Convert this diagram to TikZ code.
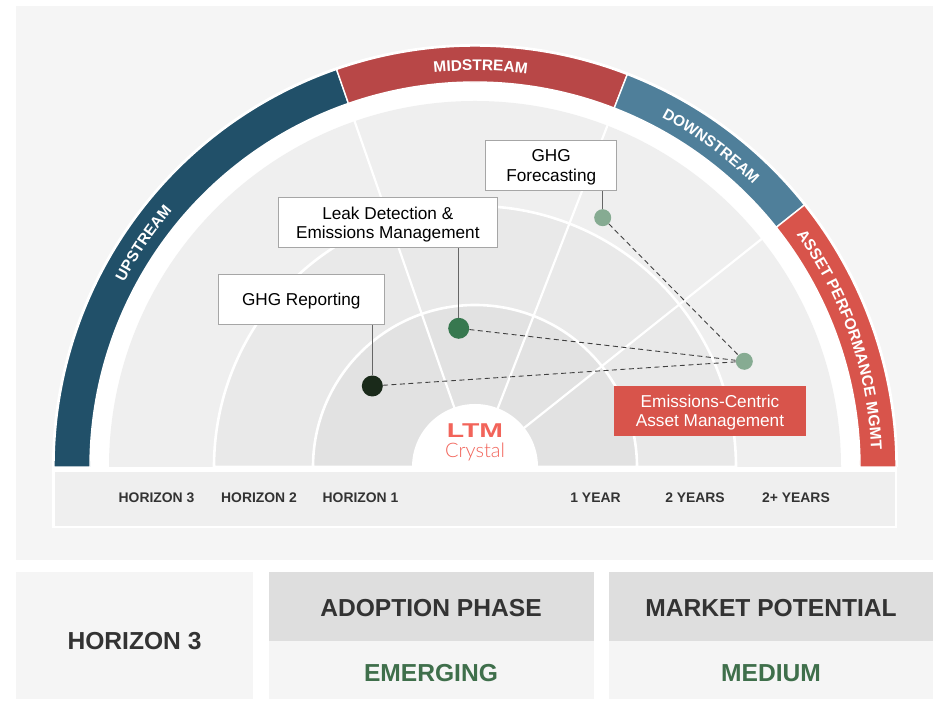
\documentclass[tikz,border=0pt]{standalone}
\usepackage{fontspec}
\setmainfont{Liberation Sans}
\newfontfamily\logolight{Lato Light}
\usetikzlibrary{decorations.text}
\definecolor{panelbg}{HTML}{F5F5F5}
\definecolor{ringa}{HTML}{EFEFEF}
\definecolor{ringb}{HTML}{E9E9E9}
\definecolor{ringc}{HTML}{E2E2E2}
\definecolor{upc}{HTML}{215069}
\definecolor{midc}{HTML}{B84747}
\definecolor{downc}{HTML}{4F7F9A}
\definecolor{assetc}{HTML}{D8544B}
\definecolor{logoc}{HTML}{F2645A}
\definecolor{txtc}{HTML}{333333}
\definecolor{greenc}{HTML}{3F6F4B}
\definecolor{dotl}{HTML}{86AB92}
\definecolor{dotdark}{HTML}{1A2A1A}
\definecolor{dotmid}{HTML}{37784F}
\tikzset{
  x=1pt,y=1pt,
  labelbox/.style={draw=black!35,line width=0.9pt,fill=white,inner sep=0pt,minimum height=50pt},
  boxtext/.style={align=center,font=\fontsize{17.2}{19.8}\selectfont,inner sep=0pt,text=black},
  axislabel/.style={font=\fontsize{13.9}{13.9}\selectfont\bfseries,text=txtc,inner sep=0pt},
  bigdot/.style={circle,inner sep=0pt,minimum size=21pt},
  smalldot/.style={circle,inner sep=0pt,minimum size=17pt,fill=dotl},
  stem/.style={draw=black!60,line width=0.9pt},
  link/.style={draw=black!75,line width=0.9pt,dash pattern=on 5pt off 3.5pt},
  spoke/.style={draw=white,line width=2.2pt},
  sectorband/.style={draw=white,line width=1.4pt},
  paneltext/.style={font=\fontsize{24.6}{24.6}\selectfont\bfseries,inner sep=0pt},
}
\newcommand{\bandsector}[3]{%
  \path[sectorband,fill=#3] (#1:385) arc[start angle=#1,end angle=#2,radius=385pt] -- (#2:421) arc[start angle=#2,end angle=#1,radius=421pt] -- cycle;}
\newcommand{\bandtext}[3]{%
  \path[decorate,decoration={text along path,text align=center,text color=white,
    text={|\fontsize{#3}{#3}\selectfont\bfseries|#2}}]
    (#1+30:396.5) arc[start angle=#1+30,end angle=#1-30,radius=396.5pt];}
\begin{document}
\begin{tikzpicture}
\useasboundingbox (0,0) rectangle (934,703);
\fill[white] (0,0) rectangle (934,703);
\fill[panelbg] (16,143) rectangle (933,697);
% semicircle
\begin{scope}[shift={(475,236)}]
  \fill[white] (-423,0) arc[start angle=180,end angle=0,radius=423pt] -- cycle;
  \bandsector{109.2}{180}{upc}
  \bandsector{68.8}{109.2}{midc}
  \bandsector{38.5}{68.8}{downc}
  \bandsector{0}{38.5}{assetc}
  \fill[ringa] (-366,0) arc[start angle=180,end angle=0,radius=366pt] -- cycle;
  \path[draw=white,line width=2.6pt,fill=ringb] (-261,0) arc[start angle=180,end angle=0,radius=261pt] -- cycle;
  \path[draw=white,line width=2.6pt,fill=ringc] (-162,0) arc[start angle=180,end angle=0,radius=162pt] -- cycle;
  \coordinate (hub) at (0,0);
  \coordinate (sa) at (109.2:371);
  \coordinate (sb) at (68.8:371);
  \coordinate (sc) at (38.5:371);
  \draw[spoke] (hub) -- (sa);
  \draw[spoke] (hub) -- (sb);
  \draw[spoke] (hub) -- (sc);
  \fill[white] (-63,0) arc[start angle=180,end angle=0,radius=63pt] -- cycle;
  \bandtext{146}{UPSTREAM}{15.4}
  \bandtext{89.2}{MIDSTREAM}{15.4}
  \bandtext{53.7}{DOWNSTREAM}{15.4}
  \bandtext{19.2}{ASSET PERFORMANCE MGMT}{15.6}
\end{scope}
% axis strip
\fill[white] (52.3,175) rectangle (897.3,236);
\fill[ringa] (55,177.3) rectangle (895,231.3);
\node[axislabel] (ha) at (156.5,205) {HORIZON 3};
\node[axislabel] (hb) at (259,205) {HORIZON 2};
\node[axislabel] (hc) at (360.5,205) {HORIZON 1};
\node[axislabel] (ya) at (595.5,205) {1 YEAR};
\node[axislabel] (yb) at (695,205) {2 YEARS};
\node[axislabel] (yc) at (796,205) {2+ YEARS};
% logo
\node[inner sep=0pt,text=logoc,font=\fontsize{20}{20}\selectfont\bfseries,xscale=1.42] (logoa) at (475,272) {LTM};
\node[inner sep=0pt,text=logoc,font=\fontsize{20}{20}\selectfont\logolight] (logob) at (475,251) {Crystal};
% dots
\node[bigdot,fill=dotdark] (dota) at (372.3,317) {};
\node[bigdot,fill=dotmid] (dotb) at (458.7,374.7) {};
\node[smalldot] (dotc) at (602.7,485.3) {};
\node[smalldot] (dotd) at (744.3,341.7) {};
% boxes
\node[labelbox,minimum width=166pt] (reporting) at (301.3,403.3) {};
\node[boxtext] (reportingtext) at ([yshift=-1.8pt]reporting.center) {GHG Reporting};
\node[labelbox,minimum width=219pt] (leak) at (387.8,480.3) {};
\node[boxtext] (leaktext) at ([yshift=-1.8pt]leak.center) {Leak Detection \&\\Emissions Management};
\node[labelbox,minimum width=131pt] (forecast) at (551.2,537.3) {};
\node[boxtext] (forecasttext) at ([yshift=-1.8pt]forecast.center) {GHG\\Forecasting};
\node[minimum width=192pt,minimum height=50pt,inner sep=0pt,fill=assetc] (assetbox) at (710,292) {};
\node[boxtext,text=white] (assettext) at ([yshift=-1.5pt]assetbox.center) {Emissions-Centric\\Asset Management};
% connectors
\coordinate (rs) at (dota.center |- reporting.south);
\coordinate (ls) at (dotb.center |- leak.south);
\coordinate (fs) at (dotc.center |- forecast.south);
\draw[stem] (rs) -- (dota);
\draw[stem] (ls) -- (dotb);
\draw[stem] (fs) -- (dotc);
\draw[link] (dota) -- (dotd);
\draw[link] (dotb) -- (dotd);
\draw[link] (dotc) -- (dotd);
% bottom panels
\fill[panelbg] (16,4) rectangle (253.4,131);
\node[paneltext,text=txtc] (hz) at (134.5,62) {HORIZON 3};
\fill[panelbg] (269,4) rectangle (593.5,62);
\fill[black!13] (269,62) rectangle (593.5,131);
\node[paneltext,text=txtc] (ap) at (431,95) {ADOPTION PHASE};
\node[paneltext,text=greenc] (em) at (431,30) {EMERGING};
\fill[panelbg] (609.4,4) rectangle (933,62);
\fill[black!13] (609.4,62) rectangle (933,131);
\node[paneltext,text=txtc] (mp) at (771,95) {MARKET POTENTIAL};
\node[paneltext,text=greenc] (md) at (771,30) {MEDIUM};
\end{tikzpicture}
\end{document}
